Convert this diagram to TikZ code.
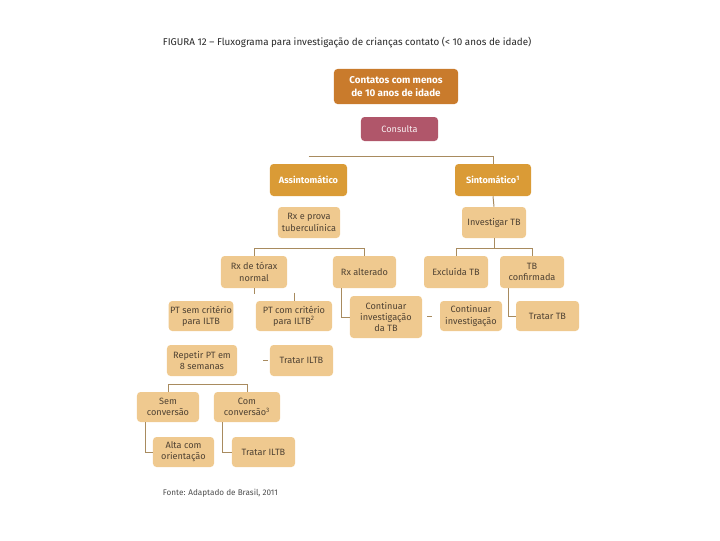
\documentclass[tikz,border=0pt]{standalone}
\usepackage{fontspec}
\setmainfont{Fira Sans}
\usepackage{xcolor}
\usetikzlibrary{calc}

\definecolor{topbox}{HTML}{C97B2C}
\definecolor{consbox}{HTML}{B0566A}
\definecolor{midbox}{HTML}{DA9B36}
\definecolor{lightbox}{HTML}{EFC98F}
\definecolor{boxtext}{HTML}{4F4233}
\definecolor{linecol}{HTML}{A88B5F}

\begin{document}
\begin{tikzpicture}[x=0.025cm, y=-0.025cm, font=\fontsize{6.5}{8}\selectfont]

  \tikzset{box/.style={rounded corners=2.5pt, align=center, inner sep=1pt},
           top/.style={box, fill=topbox, text=white, font=\fontsize{7}{9}\selectfont\bfseries},
           cons/.style={box, fill=consbox, text=white!90!consbox},
           mid/.style={box, fill=midbox, text=white, font=\fontsize{6.5}{8}\selectfont\bfseries},
           lt/.style={box, fill=lightbox, text=boxtext},
           con/.style={draw=linecol, line width=0.7pt}}

  \useasboundingbox (0,0) rectangle (720,540);

  % title and source
  \node[anchor=west, text=black!85, font=\fontsize{7}{9}\selectfont] (title) at (158,43)
    {FIGURA 12 -- Fluxograma para investigação de crianças contato (< 10 anos de idade)};
  \node[anchor=west, text=black!70, font=\fontsize{5.8}{7}\selectfont] (fonte) at (158,493)
    {Fonte: Adaptado de Brasil, 2011};

  % upper part
  \node[top, minimum width=3.1cm, minimum height=0.875cm] (contatos) at (396,86.5)
    {Contatos com menos\\de 10 anos de idade};
  \node[cons, minimum width=1.925cm, minimum height=0.6cm] (consulta) at (399.5,129) {Consulta};
  \node[mid, minimum width=1.925cm, minimum height=0.8cm] (asint) at (308.5,180) {Assintomático};
  \node[mid, minimum width=1.9cm, minimum height=0.8cm] (sint) at (493,180) {Sintomático\textsuperscript{1}};

  % asymptomatic branch
  \node[lt, minimum width=1.55cm, minimum height=0.775cm] (rxprova) at (309,222.5) {Rx e prova\\tuberculínica};
  \node[lt, minimum width=1.65cm, minimum height=0.8cm] (rxnormal) at (254,272) {Rx de tórax\\normal};
  \node[lt, minimum width=1.575cm, minimum height=0.8cm] (rxalt) at (364.5,272) {Rx alterado};
  \node[lt, minimum width=1.6cm, minimum height=0.75cm] (ptsem) at (201,316) {PT sem critério\\para ILTB};
  \node[lt, minimum width=1.9cm, minimum height=0.75cm] (ptcom) at (294,316) {PT com critério\\para ILTB\textsuperscript{2}};
  \node[lt, minimum width=1.8cm, minimum height=1.05cm] (contb) at (386,317) {Continuar\\investigação\\da TB};
  \node[lt, minimum width=1.75cm, minimum height=0.775cm] (repetir) at (202,360.5) {Repetir PT em\\8 semanas};
  \node[lt, minimum width=1.575cm, minimum height=0.775cm] (tratarA) at (301.5,360.5) {Tratar ILTB};
  \node[lt, minimum width=1.55cm, minimum height=0.75cm] (sem) at (168,407) {Sem\\conversão};
  \node[lt, minimum width=1.65cm, minimum height=0.75cm] (com) at (247,407) {Com\\conversão\textsuperscript{3}};
  \node[lt, minimum width=1.525cm, minimum height=0.75cm] (alta) at (183.5,452) {Alta com\\orientação};
  \node[lt, minimum width=1.575cm, minimum height=0.75cm] (tratarB) at (263.5,452) {Tratar ILTB};

  % symptomatic branch
  \node[lt, minimum width=1.6cm, minimum height=0.775cm] (invest) at (494,222.5) {Investigar TB};
  \node[lt, minimum width=1.6cm, minimum height=0.8cm] (excl) at (456,272) {Excluída TB};
  \node[lt, minimum width=1.6cm, minimum height=0.8cm] (tbconf) at (532,272) {TB\\confirmada};
  \node[lt, minimum width=1.55cm, minimum height=0.75cm] (continv) at (471,316) {Continuar\\investigação};
  \node[lt, minimum width=1.575cm, minimum height=0.75cm] (tratartb) at (547.5,316) {Tratar TB};

  % connectors
  \coordinate (js) at ($(asint.north)+(0,-7)$);
  \draw[con] (js) -| (sint.north);
  \draw[con] (sint.south) -- (invest.north);
  \coordinate (jr) at ($(invest.south)+(0,10)$);
  \draw[con] (invest.south) -- (jr);
  \draw[con] (excl.north) |- (jr) -| (tbconf.north);
  \coordinate (jl) at ($(rxprova.south)+(0,10)$);
  \draw[con] (rxnormal.north) |- (jl) -| (rxalt.north);
  \coordinate (t1) at ($(rxnormal.south)+(0,6)$);
  \draw[con] (rxnormal.south) -- (t1);
  \coordinate (t2) at ($(ptcom.north)+(0,-8)$);
  \draw[con] (t2) -- (ptcom.north);
  \draw[con] ($(rxalt.south)+(-23,0)$) |- (contb.west);
  \coordinate (d1) at ($(continv.west)+(-8,0)$);
  \draw[con] (d1) -- ++(-5,0);
  \draw[con] ($(tbconf.south)+(-24,0)$) |- (tratartb.west);
  \coordinate (d2) at ($(tratarA.west)+(-2,0)$);
  \draw[con] (d2) -- ++(-5,0);
  \coordinate (jb) at ($(repetir.south)+(0,8)$);
  \draw[con] (sem.north) |- (jb) -| (com.north);
  \draw[con] ($(sem.south)+(-23,0)$) |- (alta.west);
  \draw[con] ($(com.south)+(-25,0)$) |- (tratarB.west);

\end{tikzpicture}
\end{document}
